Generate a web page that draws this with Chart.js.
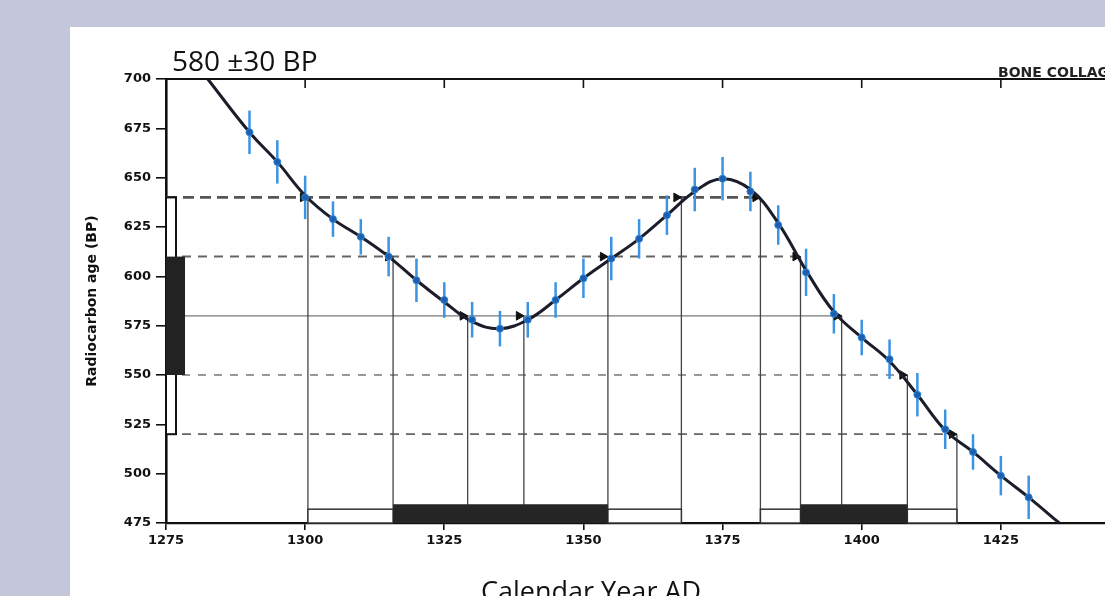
<!DOCTYPE html>
<html>
<head>
<meta charset="utf-8">
<script src="https://cdn.jsdelivr.net/npm/chart.js@4.4.1/dist/chart.umd.min.js"></script>
<style>
  html, body { margin: 0; padding: 0; }
  body {
    width: 1105px; height: 596px; overflow: hidden;
    background: #c4c6da; position: relative;
  }
  .panel { position: absolute; left: 70px; top: 27px; width: 1130px; height: 569px; background: #fff; }
  .panel canvas { position: absolute; left: 0; top: 0; }
  .txt { position: absolute; white-space: nowrap; color: #111; line-height: 1; }
  .title { left: 172px; top: 41px; font: 28px "Open Sans", sans-serif; }
  .xlabel { left: 481px; top: 572px; font: 27px "Open Sans", sans-serif; }
  .tag { left: 998px; top: 64px; font: bold 14px "DejaVu Sans", sans-serif; color: #222; }
</style>
</head>
<body>
<div class="panel"><canvas id="calChart" width="1130" height="569"></canvas></div>
<div class="txt title">580 ±30 BP</div>
<div class="txt tag">BONE COLLAGEN</div>
<div class="txt xlabel">Calendar Year AD</div>

<script>
// calibration curve
const curveYears = [1282.5, 1290, 1295, 1300, 1305, 1310, 1315, 1320, 1325, 1330, 1335, 1340, 1345, 1350, 1355, 1360,
  1365, 1370, 1375, 1380, 1385, 1390, 1395, 1400, 1405, 1410, 1415, 1420, 1425, 1430, 1435.5];
const curveBP = [700, 673, 658, 641, 629, 620, 610, 598, 587, 577, 573.5, 578, 588, 599, 609, 619,
  631, 643, 649.5, 644, 627, 603, 582, 569, 557, 540, 522, 511, 499, 488, 475];

// calibration data points with error bars
const sampleYears = [1290, 1295, 1300, 1305, 1310, 1315, 1320, 1325, 1330, 1335, 1340, 1345, 1350, 1355, 1360,
  1365, 1370, 1375, 1380, 1385, 1390, 1395, 1400, 1405, 1410, 1415, 1420, 1425, 1430];
const sampleBP = [673, 658, 640, 629, 620, 610, 598, 588, 578, 573.5, 578, 588, 599, 609, 619,
  631, 644, 649.5, 643, 626, 602, 581, 569, 558, 540, 522.5, 511, 499, 488];
const sampleErr = [11, 11, 11, 9, 9, 10, 11, 9, 9, 9, 9, 9, 10, 11, 10,
  10, 11, 11, 10, 10, 12, 10, 9, 10, 11, 10, 9, 10, 11];

// measured age and sigma levels
const levels = [640, 610, 580, 550, 520];
const levelEnds = [1381.8, 1389, 1396.4, 1408.2, 1417.1];
const dropYears = [[1300.5, 1367.6, 1381.8], [1315.8, 1354.4, 1389], [1329.2, 1339.3, 1396.4], [1408.2], [1417.1]];
const range1Sigma = [[1315.8, 1354.4], [1389, 1408.2]];
const range2Sigma = [[1300.5, 1315.8], [1354.4, 1367.6], [1381.8, 1389], [1408.2, 1417.1]];
const sigma1BP = [550, 610];
const sigma2BP = [520, 640];

const xMin = 1275, xMax = 1450, yMin = 475, yMax = 700, tickStep = 25;

const levelStyles = [
  { dash: [11, 6], width: 2.6, color: "#555" },
  { dash: [9, 7], width: 2, color: "#666" },
  { dash: [], width: 1.3, color: "#777" },
  { dash: [8, 8], width: 1.5, color: "#777" },
  { dash: [9, 7], width: 1.8, color: "#666" },
];

const arrowPoints = [];
dropYears.forEach((yrs, i) => yrs.forEach((yr) => arrowPoints.push({ x: yr - 0.9, y: levels[i] })));

const overlay = {
  id: "overlay",
  beforeDatasetsDraw(chart) {
    const { ctx, scales: { x, y } } = chart;
    ctx.save();
    // horizontal levels
    levels.forEach((bp, i) => {
      const st = levelStyles[i];
      ctx.strokeStyle = st.color;
      ctx.lineWidth = st.width;
      ctx.setLineDash(st.dash);
      ctx.beginPath();
      ctx.moveTo(x.getPixelForValue(xMin), y.getPixelForValue(bp));
      ctx.lineTo(x.getPixelForValue(levelEnds[i]), y.getPixelForValue(bp));
      ctx.stroke();
    });
    ctx.setLineDash([]);
    // vertical drops
    ctx.strokeStyle = "#444";
    ctx.lineWidth = 1.3;
    dropYears.forEach((yrs, i) => {
      yrs.forEach((yr) => {
        const px = x.getPixelForValue(yr);
        ctx.beginPath();
        ctx.moveTo(px, y.getPixelForValue(levels[i]));
        ctx.lineTo(px, y.getPixelForValue(yMin));
        ctx.stroke();
      });
    });
    // error bars
    ctx.strokeStyle = "#3b93e3";
    ctx.lineWidth = 2.5;
    sampleYears.forEach((yr, i) => {
      const px = x.getPixelForValue(yr);
      ctx.beginPath();
      ctx.moveTo(px, y.getPixelForValue(sampleBP[i] + sampleErr[i]));
      ctx.lineTo(px, y.getPixelForValue(sampleBP[i] - sampleErr[i]));
      ctx.stroke();
    });
    ctx.restore();
  },
  afterDatasetsDraw(chart) {
    const { ctx, chartArea, scales: { x, y } } = chart;
    ctx.save();
    const base = y.getPixelForValue(yMin);
    // calendar ranges on the x axis
    ctx.fillStyle = "#fff";
    ctx.strokeStyle = "#333";
    ctx.lineWidth = 1.5;
    range2Sigma.forEach(([a, b]) => {
      const x0 = x.getPixelForValue(a), x1 = x.getPixelForValue(b);
      const top = y.getPixelForValue(482);
      ctx.fillRect(x0, top, x1 - x0, base - top);
      ctx.strokeRect(x0, top, x1 - x0, base - top);
    });
    ctx.fillStyle = "#252525";
    range1Sigma.forEach(([a, b]) => {
      const x0 = x.getPixelForValue(a), x1 = x.getPixelForValue(b);
      const top = y.getPixelForValue(484.5);
      ctx.fillRect(x0, top, x1 - x0, base - top);
    });
    // radiocarbon ranges on the y axis
    const left = chartArea.left;
    const t2 = y.getPixelForValue(sigma2BP[1]), b2 = y.getPixelForValue(sigma2BP[0]);
    ctx.fillStyle = "#fff";
    ctx.strokeStyle = "#111";
    ctx.lineWidth = 2;
    ctx.fillRect(left, t2, 10, b2 - t2);
    ctx.strokeRect(left, t2, 10, b2 - t2);
    const t1 = y.getPixelForValue(sigma1BP[1]), b1 = y.getPixelForValue(sigma1BP[0]);
    ctx.fillStyle = "#222";
    ctx.fillRect(left, t1, 19, b1 - t1);
    // top frame with inward ticks
    ctx.strokeStyle = "#111";
    ctx.lineWidth = 2;
    ctx.beginPath();
    ctx.moveTo(left, chartArea.top);
    ctx.lineTo(chartArea.right, chartArea.top);
    ctx.stroke();
    ctx.lineWidth = 1.6;
    for (let v = xMin + tickStep; v <= xMax; v += tickStep) {
      const px = x.getPixelForValue(v);
      ctx.beginPath();
      ctx.moveTo(px, chartArea.top);
      ctx.lineTo(px, chartArea.top + 9);
      ctx.stroke();
    }
    ctx.restore();
  },
};

const tickFont = { family: "DejaVu Sans", size: 13, weight: "bold" };

new Chart(document.getElementById("calChart"), {
  type: "line",
  data: {
    datasets: [
      {
        label: "Data",
        data: sampleYears.map((yr, i) => ({ x: yr, y: sampleBP[i] })),
        showLine: false,
        pointStyle: "circle",
        pointRadius: 3.5,
        pointBackgroundColor: "#1d5fae",
        pointBorderColor: "#2f86d6",
        pointBorderWidth: 1,
        order: 0,
      },
      {
        label: "Curve",
        data: curveYears.map((yr, i) => ({ x: yr, y: curveBP[i] })),
        borderColor: "#1b1d2a",
        borderWidth: 3,
        tension: 0.4,
        pointRadius: 0,
        order: 1,
      },
      {
        label: "Arrows",
        data: arrowPoints,
        showLine: false,
        pointStyle: "triangle",
        rotation: 90,
        pointRadius: 5,
        pointBackgroundColor: "#111",
        pointBorderColor: "#111",
        order: 2,
      },
    ],
  },
  options: {
    responsive: false,
    animation: false,
    events: [],
    layout: { padding: { top: 52, right: 60, left: 0, bottom: 0 } },
    plugins: { legend: { display: false }, tooltip: { enabled: false } },
    scales: {
      x: {
        type: "linear",
        min: xMin,
        max: xMax,
        afterFit: (s) => { s.height = 73; },
        ticks: {
          stepSize: tickStep,
          color: "#111",
          font: tickFont,
          padding: 3,
          maxRotation: 0,
          callback: (v) => String(v),
        },
        grid: { drawOnChartArea: false, color: "#111", tickLength: 7, lineWidth: 1.6 },
        border: { color: "#111", width: 2.2 },
      },
      y: {
        min: yMin,
        max: yMax,
        afterFit: (s) => { s.width = 96; },
        ticks: { stepSize: tickStep, color: "#111", font: tickFont, padding: 5 },
        grid: { drawOnChartArea: false, color: "#111", tickLength: 10, lineWidth: 1.6 },
        border: { color: "#111", width: 2.6 },
        title: {
          display: true,
          text: "Radiocarbon age (BP)",
          color: "#111",
          font: { family: "DejaVu Sans", size: 14, weight: "bold" },
          padding: { top: 14, bottom: 0 },
        },
      },
    },
  },
  plugins: [overlay],
});
</script>
</body>
</html>
